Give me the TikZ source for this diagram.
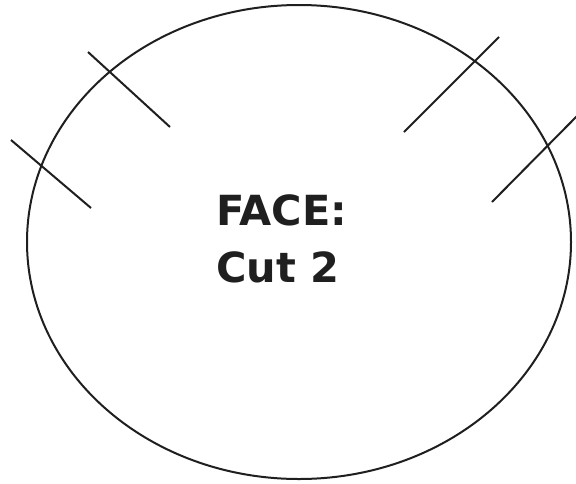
\documentclass[tikz,border=0pt]{standalone}
\usepackage{fontspec}
\newfontfamily\labelfont{DejaVu Sans}
\begin{document}
\begin{tikzpicture}[x=1pt,y=-1pt,
  stroke/.style={draw=black!88,line width=2pt},
  facetext/.style={font=\labelfont\bfseries\fontsize{41.5}{57}\selectfont,align=left,anchor=west,inner sep=0pt,text=black!88}]
\useasboundingbox (0,0) rectangle (576,483);
\draw[stroke] (299,242) ellipse [x radius=272, y radius=237];
\coordinate (a1) at (88,52);  \coordinate (a2) at (170,127);
\coordinate (b1) at (11,140); \coordinate (b2) at (91,208);
\coordinate (c1) at (499,37); \coordinate (c2) at (404,132);
\coordinate (d1) at (578,115); \coordinate (d2) at (492,202);
\draw[stroke] (a1) -- (a2);
\draw[stroke] (b1) -- (b2);
\draw[stroke] (c1) -- (c2);
\draw[stroke] (d1) -- (d2);
\node[facetext] (lbl) at (216,239) {FACE:\\Cut 2};
\end{tikzpicture}
\end{document}
